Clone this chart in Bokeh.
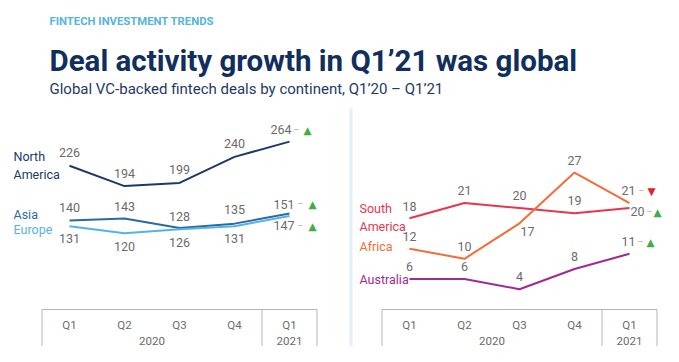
from bokeh.plotting import figure
from bokeh.models import Range1d, ColumnDataSource
from bokeh.core.properties import value
from bokeh.embed import file_html
from bokeh.resources import INLINE

# ---------------- data ----------------
kicker = "FINTECH INVESTMENT TRENDS"
title = "Deal activity growth in Q1’21 was global"
subtitle = "Global VC-backed fintech deals by continent, Q1’20 – Q1’21"

quarters = ["Q1", "Q2", "Q3", "Q4", "Q1"]
years = ["2020", "2020", "2020", "2020", "2021"]

left_names = ["North\nAmerica", "Asia", "Europe"]
north_america = [226, 194, 199, 240, 264]
asia = [140, 143, 128, 135, 151]
europe = [131, 120, 126, 131, 147]

right_names = ["South\nAmerica", "Africa", "Australia"]
south_america = [18, 21, 20, 19, 20]
africa = [12, 10, 17, 27, 21]
australia = [6, 6, 4, 8, 11]

# ---------------- styles / layout ----------------
W, H = 663, 346
FONT = value("Roboto")
GRAY = "#6b6b6b"
UP, DOWN = "#3fae49", "#e0222f"

# panel geometry (pixels inside the figure, from top-left)
LEFT = dict(first=69, step=55, base=309, ppu=0.636)
RIGHT = dict(first=409, step=55, base=309, ppu=5.07)

# per-series styles: color, name offset (dx, dy), label dy per point,
# final label offsets (number dx, dash dx, triangle dx, dy)
left_styles = [
    dict(color="#1b3a69", name_off=(-56, 0), dy=[-13, -13, -13, -13], extra={}, fin=(2, 7, 18, -12)),
    dict(color="#2b69a6", name_off=(-56, -6), dy=[-13, -12, -12, -14], extra={}, fin=(5, 11, 23, -9)),
    dict(color="#55b3e3", name_off=(-56, 3.5), dy=[12.5, 13, 13, 12.5], extra={}, fin=(5, 11, 23, 9.5)),
]
right_styles = [
    dict(color="#e8354d", name_off=(-50, -1), dy=[-12, -12.5, -12.5, -12.5], extra={}, fin=(15, 20, 28, 3.5)),
    dict(color="#f36d3b", name_off=(-50, -2), dy=[-12, -12.5, 8, -12], extra={2: 8}, fin=(6, 12, 22, -12.5)),
    dict(color="#a02a8f", name_off=(-50, 0), dy=[-12.5, -12.5, -12.5, -12.5], extra={}, fin=(6, 11, 21, -12)),
]


def x_range_for(g):
    return Range1d(-g["first"] / g["step"], (W - g["first"]) / g["step"])


def y_range_for(g):
    bottom = H - g["base"]
    return Range1d(-bottom / g["ppu"], (H - bottom) / g["ppu"])


p = figure(width=W, height=H, x_range=x_range_for(LEFT), y_range=y_range_for(LEFT),
           output_backend="svg", toolbar_location=None, min_border=0,
           x_axis_location=None, y_axis_location=None, outline_line_color=None,
           background_fill_color="white", border_fill_color="white")
p.title.visible = False
p.xgrid.grid_line_color = None
p.ygrid.grid_line_color = None
p.extra_x_ranges = {"rx": x_range_for(RIGHT), "px": Range1d(0, W)}
p.extra_y_ranges = {"ry": y_range_for(RIGHT), "py": Range1d(H, 0)}

# ---------------- header ----------------
p.text(x=[49], y=[20.5], text=[kicker], x_range_name="px", y_range_name="py",
       text_font=FONT, text_font_size="11.3px", text_font_style="bold",
       text_color="#56b4dd", text_baseline="middle")
p.text(x=[49], y=[60], text=[title], x_range_name="px", y_range_name="py",
       text_font=FONT, text_font_size="29.5px", text_font_style="bold",
       text_color="#112f5c", text_baseline="alphabetic")
p.text(x=[49], y=[88], text=[subtitle], x_range_name="px", y_range_name="py",
       text_font=FONT, text_font_size="15px", text_color="#1e3a66",
       text_baseline="alphabetic")

# divider between the panels
p.segment(x0=[350.5], y0=[108], x1=[350.5], y1=[H], x_range_name="px", y_range_name="py",
          line_color="#e2eff8", line_width=3)


def draw_panel(series, names, styles, xr=None, yr=None):
    kw = {}
    if xr:
        kw["x_range_name"] = xr
    if yr:
        kw["y_range_name"] = yr
    n = len(quarters)
    idx = list(range(n))
    yrange = p.extra_y_ranges[yr] if yr else p.y_range
    bottom = yrange.start

    # axis box
    bounds = [-0.5] + [i - 0.5 for i in range(1, n) if years[i] != years[i - 1]] + [n - 0.5]
    p.segment(x0=[-0.5], y0=[0], x1=[n - 0.5], y1=[0], line_color="#b5b5b5", line_width=1, **kw)
    p.segment(x0=bounds, y0=[0] * len(bounds), x1=bounds, y1=[bottom] * len(bounds),
              line_color="#b5b5b5", line_width=1, **kw)
    # tick labels
    p.text(x=idx, y=[0] * n, text=quarters, y_offset=15, text_align="center",
           text_baseline="middle", text_font=FONT, text_font_size="11.5px",
           text_color=GRAY, **kw)
    groups = []
    for i, yv in enumerate(years):
        if groups and groups[-1][0] == yv:
            groups[-1][1].append(i)
        else:
            groups.append((yv, [i]))
    p.text(x=[sum(g[1]) / len(g[1]) for g in groups], y=[0] * len(groups),
           text=[g[0] for g in groups], y_offset=31, text_align="center",
           text_baseline="middle", text_font=FONT, text_font_size="11.5px",
           text_color=GRAY, **kw)

    for vals, name, st in zip(series, names, styles):
        p.line(x=idx, y=vals, line_color=st["color"], line_width=2, **kw)
        # series name
        p.text(x=[0], y=[vals[0]], text=[name], x_offset=st["name_off"][0],
               y_offset=st["name_off"][1], text_align="left", text_baseline="middle",
               text_font=FONT, text_font_size="12.5px", text_color=st["color"],
               text_line_height=1.2, **kw)
        # value labels (all but last)
        src = ColumnDataSource(dict(
            x=idx[:-1], y=vals[:-1], t=[str(v) for v in vals[:-1]],
            dx=[st["extra"].get(i, 0) for i in idx[:-1]], dy=st["dy"]))
        p.text(x="x", y="y", text="t", x_offset="dx", y_offset="dy", source=src,
               text_align="center", text_baseline="middle", text_font=FONT,
               text_font_size="12.5px", text_color=GRAY, **kw)
        # last value + trend marker
        ndx, ddx, tdx, fdy = st["fin"]
        up = vals[-1] >= vals[-2]
        p.text(x=[idx[-1]], y=[vals[-1]], text=[str(vals[-1])], x_offset=ndx, y_offset=fdy,
               text_align="right", text_baseline="middle", text_font=FONT,
               text_font_size="12.5px", text_color=GRAY, **kw)
        p.text(x=[idx[-1]], y=[vals[-1]], text=["–"], x_offset=ddx, y_offset=fdy,
               text_align="center", text_baseline="middle", text_font=FONT,
               text_font_size="9px", text_color="#a8a8a8", **kw)
        p.text(x=[idx[-1]], y=[vals[-1]], text=["▲" if up else "▼"], x_offset=tdx,
               y_offset=fdy, text_align="center", text_baseline="middle",
               text_font=value("DejaVu Sans"), text_font_size="10.5px",
               text_color=UP if up else DOWN, **kw)


draw_panel([north_america, asia, europe], left_names, left_styles)
draw_panel([south_america, africa, australia], right_names, right_styles, "rx", "ry")

open("out.html", "w").write(file_html(p, INLINE))
